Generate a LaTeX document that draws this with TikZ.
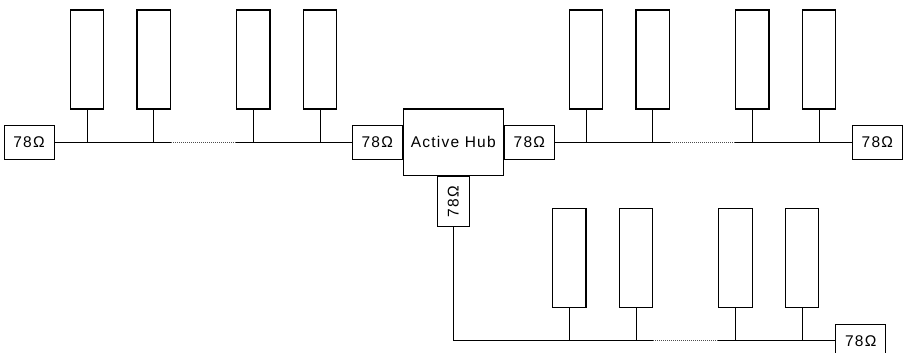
\documentclass[tikz,border=0pt]{standalone}
\usepackage{fontspec}
\setmainfont{Liberation Sans}[LetterSpace=8]
\begin{document}
\begin{tikzpicture}[x=1pt,y=-1pt,
  term/.style={draw, line width=0.9pt, minimum width=50pt, minimum height=33.3pt, inner sep=0pt, font=\fontsize{15.5}{18}\selectfont},
  device/.style={draw, line width=1.2pt, minimum width=33.4pt, minimum height=99pt, inner sep=0pt},
  hubbox/.style={draw, line width=1.2pt, minimum width=100pt, minimum height=66.7pt, inner sep=0pt, font=\fontsize{15.5}{18}\selectfont},
  wire/.style={line width=0.9pt},
  dots/.style={line width=0.9pt, dash pattern=on 1pt off 1pt, black!70}]
\useasboundingbox (0,0) rectangle (904,353);
\clip (0,0) rectangle (904,353);
% hub and terminators
\node[hubbox] (hub) at (453.3,142.3) {Active Hub};
\node[term, anchor=east] (tHL) at (hub.west) {78Ω};
\node[term, anchor=west] (tHR) at (hub.east) {78Ω};
\node[term, rotate=90, minimum width=49.3pt, minimum height=32.7pt, anchor=east] (tHB) at (hub.south) {78Ω};
\node[term] (tL) at (29,142.3) {78Ω};
\node[term] (tR) at (877.3,142.3) {78Ω};
\node[term] (tB) at (860.7,341) {78Ω};
% devices left
\node[device] (dL1) at (87,59.5) {};
\node[device] (dL2) at (153.7,59.5) {};
\node[device] (dL3) at (253.3,59.5) {};
\node[device] (dL4) at (320,59.5) {};
% devices right
\node[device] (dR1) at (586,59.5) {};
\node[device] (dR2) at (652.7,59.5) {};
\node[device] (dR3) at (752.3,59.5) {};
\node[device] (dR4) at (819,59.5) {};
% devices bottom
\node[device] (dB1) at (569.3,258) {};
\node[device] (dB2) at (636,258) {};
\node[device] (dB3) at (735.5,258) {};
\node[device] (dB4) at (802,258) {};
% left bus
\draw[wire] (tL.east) -- (dL2.east |- tL.east);
\draw[dots] (dL2.east |- tL.east) -- (dL3.west |- tL.east);
\draw[wire] (dL3.west |- tL.east) -- (tHL.west);
\foreach \d in {dL1,dL2,dL3,dL4} \draw[wire] (\d.south) -- (\d.south |- tL.east);
% right bus
\draw[wire] (tHR.east) -- (dR2.east |- tR.west);
\draw[dots] (dR2.east |- tR.west) -- (dR3.west |- tR.west);
\draw[wire] (dR3.west |- tR.west) -- (tR.west);
\foreach \d in {dR1,dR2,dR3,dR4} \draw[wire] (\d.south) -- (\d.south |- tR.west);
% bottom bus
\coordinate (corner) at (tHB.west |- 0,340);
\draw[wire] (tHB.west) -- (corner) -- (dB2.east |- corner);
\draw[dots] (dB2.east |- corner) -- (dB3.west |- corner);
\draw[wire] (dB3.west |- corner) -- (tB.west |- corner);
\foreach \d in {dB1,dB2,dB3,dB4} \draw[wire] (\d.south) -- (\d.south |- corner);
\end{tikzpicture}
\end{document}
